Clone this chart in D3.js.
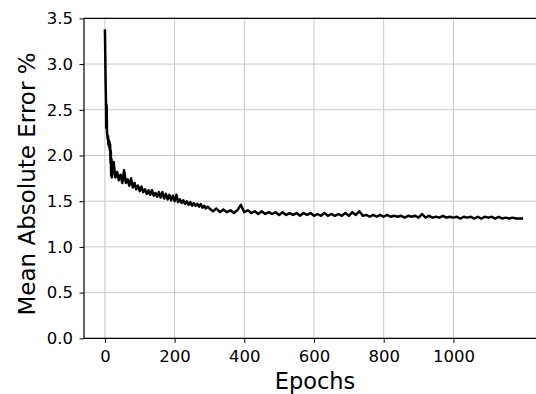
<!DOCTYPE html>
<html>
<head>
<meta charset="utf-8">
<script src="https://cdn.jsdelivr.net/npm/d3@7"></script>
<style>
  body { margin: 0; background: #fff; overflow: hidden; }
  svg { display: block; }
  text { font-family: "DejaVu Sans", sans-serif; fill: #000; }
</style>
</head>
<body>
<script>
// MAE, in three sampling segments
// epochs 0..20, every epoch
var mae0 = [3.38, 3.12, 2.80, 2.62, 2.30, 2.55, 2.26, 2.22, 2.18, 2.21, 2.12,
  2.17, 2.10, 2.15, 2.06, 2.12, 1.92, 2.05, 1.78, 1.96, 1.76];
// epochs 25..300, every 5
var mae1 = [1.93, 1.76, 1.82, 1.73, 1.79, 1.70, 1.84, 1.70, 1.74, 1.67,
  1.75, 1.65, 1.70, 1.63, 1.67, 1.61, 1.66, 1.60, 1.63, 1.58,
  1.62, 1.57, 1.62, 1.56, 1.59, 1.55, 1.60, 1.54, 1.60, 1.53,
  1.58, 1.52, 1.57, 1.51, 1.56, 1.50, 1.57, 1.49, 1.52, 1.48,
  1.51, 1.47, 1.50, 1.46, 1.49, 1.45, 1.48, 1.45, 1.47, 1.44,
  1.47, 1.43, 1.45, 1.42, 1.44, 1.42];
// epochs 310..1200, every 10
var mae2 = [1.39, 1.42, 1.38, 1.41, 1.38, 1.40, 1.37, 1.40, 1.46, 1.38,
  1.40, 1.37, 1.39, 1.36, 1.39, 1.36, 1.38, 1.36, 1.38, 1.35,
  1.38, 1.35, 1.37, 1.35, 1.37, 1.34, 1.37, 1.35, 1.37, 1.34,
  1.36, 1.34, 1.37, 1.34, 1.36, 1.34, 1.36, 1.34, 1.37, 1.34,
  1.38, 1.35, 1.39, 1.34, 1.35, 1.33, 1.35, 1.33, 1.35, 1.33,
  1.35, 1.33, 1.34, 1.33, 1.34, 1.32, 1.34, 1.33, 1.34, 1.32,
  1.36, 1.32, 1.34, 1.32, 1.33, 1.32, 1.34, 1.32, 1.33, 1.32,
  1.33, 1.31, 1.33, 1.32, 1.33, 1.31, 1.33, 1.31, 1.33, 1.32,
  1.33, 1.31, 1.33, 1.31, 1.32, 1.31, 1.32, 1.31, 1.31, 1.31];
var xTicks = [0, 200, 400, 600, 800, 1000];
var yTicks = [0, 0.5, 1.0, 1.5, 2.0, 2.5, 3.0, 3.5];

var data = [];
mae0.forEach(function(v, i) { data.push([i, v]); });
mae1.forEach(function(v, i) { data.push([25 + i * 5, v]); });
mae2.forEach(function(v, i) { data.push([310 + i * 10, v]); });

var width = 536;
var height = 394;
var pLeft = 84, pRight = 544, pTop = 18.4, pBottom = 338.3;

var svg = d3
  .select("body")
  .append("svg")
  .attr("width", width)
  .attr("height", height);

var xScale = d3.scaleLinear().domain([-60, 1260]).range([pLeft, pRight]);
var yScale = d3.scaleLinear().domain([0, 3.5]).range([pBottom, pTop]);

// grid
svg
  .append("g")
  .selectAll("line")
  .data(xTicks)
  .enter()
  .append("line")
  .attr("x1", function(d) { return xScale(d); })
  .attr("x2", function(d) { return xScale(d); })
  .attr("y1", pTop)
  .attr("y2", pBottom)
  .attr("stroke", "#c8c8c8")
  .attr("stroke-width", 1);
svg
  .append("g")
  .selectAll("line")
  .data(yTicks)
  .enter()
  .append("line")
  .attr("x1", pLeft)
  .attr("x2", pRight)
  .attr("y1", function(d) { return yScale(d); })
  .attr("y2", function(d) { return yScale(d); })
  .attr("stroke", "#c8c8c8")
  .attr("stroke-width", 1);

// line
var line = d3
  .line()
  .x(function(d) { return xScale(d[0]); })
  .y(function(d) { return yScale(d[1]); });
svg
  .append("path")
  .datum(data)
  .attr("d", line)
  .attr("fill", "none")
  .attr("stroke", "#000")
  .attr("stroke-width", 2.5)
  .attr("stroke-linejoin", "round");

// axes
var xAxis = svg
  .append("g")
  .attr("transform", "translate(0," + pBottom + ")")
  .call(d3.axisBottom(xScale).tickValues(xTicks).tickSize(4.5).tickPadding(7).tickFormat(d3.format("d")));
var yAxis = svg
  .append("g")
  .attr("transform", "translate(" + pLeft + ",0)")
  .call(d3.axisLeft(yScale).tickValues(yTicks).tickSize(4.5).tickPadding(6.5).tickFormat(d3.format(".1f")));
[xAxis, yAxis].forEach(function(a) {
  a.select(".domain").remove();
  a.selectAll("text").attr("font-size", 16.5).attr("font-family", "DejaVu Sans");
  a.selectAll("line").attr("stroke", "#000").attr("stroke-width", 1);
});

// spines
svg.append("line").attr("x1", pLeft).attr("x2", pLeft).attr("y1", pTop).attr("y2", pBottom)
  .attr("stroke", "#000").attr("stroke-width", 1.2);
svg.append("line").attr("x1", pLeft).attr("x2", pRight).attr("y1", pBottom).attr("y2", pBottom)
  .attr("stroke", "#000").attr("stroke-width", 1.2);
svg.append("line").attr("x1", pLeft).attr("x2", pRight).attr("y1", pTop).attr("y2", pTop)
  .attr("stroke", "#000").attr("stroke-width", 1.2);

// labels
svg
  .append("text")
  .attr("x", 315)
  .attr("y", 388.5)
  .attr("text-anchor", "middle")
  .attr("font-size", 22.5)
  .text("Epochs");
svg
  .append("text")
  .attr("transform", "translate(35,184) rotate(-90)")
  .attr("text-anchor", "middle")
  .attr("font-size", 23)
  .text("Mean Absolute Error %");
</script>
</body>
</html>
